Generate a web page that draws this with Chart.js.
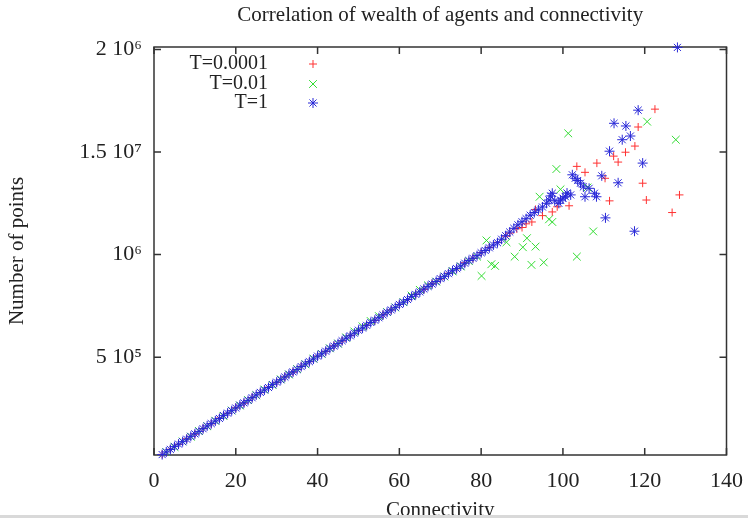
<!DOCTYPE html>
<html>
<head>
<meta charset="utf-8">
<script src="https://cdn.jsdelivr.net/npm/chart.js@4.4.0/dist/chart.umd.min.js"></script>
<style>
  body { margin: 0; background: #fff; }
  #wrap { position: relative; width: 748px; height: 518px; overflow: hidden; }
  #strip { position: absolute; left: 0; top: 515px; width: 748px; height: 3px; background: #d9d9d9; }
</style>
</head>
<body>
<div id="wrap">
  <canvas id="chart" width="748" height="518"></canvas>
  <div id="strip"></div>
</div>
<script>
// values in thousands of points
const seriesLabels = ['T=0.0001', 'T=0.01', 'T=1'];

const redX = [2, 4, 6, 8, 10, 12, 14, 16, 18, 20, 22, 24, 26, 28, 30, 32, 34, 36, 38, 40, 42, 44, 46, 48, 50,
  52, 54, 56, 58, 60, 62, 64, 66, 68, 70, 72, 74, 76, 78, 80, 82, 84, 86,
  87, 88.7, 90, 91, 92.4, 93.3, 95, 97.4, 98.6, 101.5, 103.4, 105.4, 108.3, 110.3, 111.4, 112.4, 113.5,
  115.3, 117.6, 118.4, 119.5, 120.4, 122.5, 126.7, 128.5];
const redY = [26, 51, 75, 102, 125, 152, 175, 203, 226, 253, 276, 303, 327, 354, 377, 404, 427, 455, 478, 505,
  528, 555, 579, 606, 629, 656, 679, 707, 730, 757, 780, 807, 831, 858, 881, 909, 931, 960, 982, 1010, 1035, 1060, 1090,
  1105, 1126, 1132, 1150, 1159, 1220, 1190, 1208, 1233, 1238, 1430, 1401, 1446, 1372, 1262, 1480, 1451,
  1499, 1529, 1622, 1348, 1266, 1709, 1205, 1291];

const greenX = [3, 5, 7, 9, 11, 13, 15, 17, 19, 21, 23, 25, 27, 29, 31, 33, 35, 37, 39, 41, 43, 45, 47, 49, 51,
  53, 55, 57, 59, 61, 63, 65, 67, 69, 71, 73, 75, 77, 79,
  80.1, 81.3, 82.5, 83.4, 86.2, 88.2, 90.2, 91.2, 92.3, 93.3, 94.3, 95.3, 96.6, 97.4, 98.4, 99.4, 101.3,
  103.4, 106, 107.4, 120.6, 127.6];
const greenY = [37, 62, 89, 112, 140, 163, 190, 213, 240, 264, 291, 314, 342, 364, 392, 415, 442, 465, 493, 516,
  543, 566, 596, 625, 650, 676, 700, 720, 742, 768, 800, 828, 850, 868, 893, 918, 942, 968, 990,
  896, 1069, 953, 945, 1060, 990, 1036, 1080, 950, 1039, 1282, 962, 1172, 1159, 1417, 1318, 1591,
  990, 1327, 1113, 1648, 1560];

const blueX = [2, 3, 4, 5, 6, 7, 8, 9, 10, 11, 12, 13, 14, 15, 16, 17, 18, 19, 20, 21, 22, 23, 24, 25, 26, 27, 28, 29,
  30, 31, 32, 33, 34, 35, 36, 37, 38, 39, 40, 41, 42, 43, 44, 45, 46, 47, 48, 49, 50, 51, 52, 53, 54, 55, 56, 57,
  58, 59, 60, 61, 62, 63, 64, 65, 66, 67, 68, 69, 70, 71, 72, 73, 74, 75, 76, 77, 78, 79, 80, 81, 82, 83, 84, 85,
  86, 87, 88, 89, 90, 91, 92, 93, 94, 95, 96, 96.6, 97, 97.4, 98, 99, 99.4, 100, 100.6, 101, 101.9,
  102.3, 103, 103.6, 104.3, 105, 105.4, 106.4, 107.7, 108.2, 109.5, 110.4, 111.4, 112.5, 113.5, 114.5,
  115.4, 116.5, 117.5, 118.4, 119.5, 128];
const blueY = [25, 38, 50, 64, 76, 88, 100, 114, 126, 138, 151, 165, 176, 189, 201, 215, 227, 239, 252, 266, 277, 289,
  302, 316, 328, 340, 352, 366, 378, 390, 403, 417, 428, 440, 454, 467, 478, 491, 505, 516, 529, 543, 554, 566,
  580, 593, 604, 617, 631, 642, 655, 669, 680, 692, 706, 719, 730, 743, 757, 768, 781, 795, 806, 818, 832, 845,
  856, 869, 883, 894, 907, 921, 932, 944, 958, 971, 982, 995, 1009, 1020, 1033, 1047, 1058, 1075,
  1092, 1110, 1128, 1145, 1160, 1175, 1192, 1205, 1218, 1232, 1250, 1266, 1286, 1299, 1262, 1250, 1266, 1275, 1282, 1300, 1291,
  1389, 1372, 1361, 1348, 1330, 1282, 1323, 1299, 1282, 1384, 1179, 1504, 1640, 1350, 1560,
  1627, 1578, 1114, 1704, 1446, 2010];

const xTickValues = [0, 20, 40, 60, 80, 100, 120, 140];
const yTickValues = [500, 1000, 1500, 2000];
const yTickLabels = ['5 10\u2075', '10\u2076', '1.5 10\u2077', '2 10\u2076'];

const serif = "'Liberation Serif', 'Times New Roman', serif";
const textColor = '#222';

const toPoints = (xs, ys) => xs.map((x, i) => ({ x: x, y: ys[i] }));

// gnuplot style border with inward ticks on all four sides
const frame = {
  id: 'frame',
  beforeDatasetsDraw(chart) {
    const { ctx, chartArea: a, scales } = chart;
    ctx.save();
    ctx.strokeStyle = '#333';
    ctx.lineWidth = 1.5;
    ctx.strokeRect(a.left, a.top, a.right - a.left, a.bottom - a.top);
    ctx.beginPath();
    scales.x.ticks.forEach(t => {
      const px = scales.x.getPixelForValue(t.value);
      ctx.moveTo(px, a.bottom); ctx.lineTo(px, a.bottom - 7);
      ctx.moveTo(px, a.top); ctx.lineTo(px, a.top + 7);
    });
    scales.y.ticks.forEach(t => {
      const py = scales.y.getPixelForValue(t.value);
      ctx.moveTo(a.left, py); ctx.lineTo(a.left + 7, py);
      ctx.moveTo(a.right, py); ctx.lineTo(a.right - 7, py);
    });
    ctx.stroke();
    ctx.restore();
  }
};

// key inside the plot, text right aligned before the marker
const key = {
  id: 'key',
  afterDraw(chart) {
    const { ctx } = chart;
    const rows = [64, 84, 103];
    ctx.save();
    ctx.font = '20px ' + serif;
    ctx.textAlign = 'right';
    ctx.textBaseline = 'middle';
    chart.data.datasets.forEach((ds, i) => {
      ctx.fillStyle = textColor;
      ctx.fillText(ds.label, 268, rows[i]);
      ctx.strokeStyle = ds.borderColor;
      ctx.fillStyle = ds.borderColor;
      ctx.lineWidth = ds.borderWidth;
      Chart.helpers.drawPoint(ctx, { pointStyle: ds.pointStyle, radius: ds.pointRadius, rotation: 0, borderWidth: ds.borderWidth }, 313, rows[i]);
    });
    ctx.restore();
  }
};

new Chart(document.getElementById('chart'), {
  type: 'scatter',
  data: {
    datasets: [
      { label: seriesLabels[0], data: toPoints(redX, redY), pointStyle: 'cross', pointRadius: 4,
        borderColor: 'rgb(255,50,50)', backgroundColor: 'rgb(255,50,50)', borderWidth: 1, order: 2, clip: false },
      { label: seriesLabels[1], data: toPoints(greenX, greenY), pointStyle: 'crossRot', pointRadius: 5.5,
        borderColor: 'rgb(50,220,50)', backgroundColor: 'rgb(50,220,50)', borderWidth: 1, order: 1, clip: false },
      { label: seriesLabels[2], data: toPoints(blueX, blueY), pointStyle: 'star', pointRadius: 5,
        borderColor: 'rgb(40,40,215)', backgroundColor: 'rgb(40,40,215)', borderWidth: 1, order: 0, clip: false }
    ]
  },
  options: {
    responsive: false,
    animation: false,
    layout: { padding: { left: 0, right: 21, top: 0, bottom: 0 } },
    plugins: {
      legend: { display: false },
      title: { display: false },
      tooltip: { enabled: false }
    },
    scales: {
      x: {
        type: 'linear',
        position: 'bottom',
        min: 0,
        max: 140,
        afterBuildTicks: s => { s.ticks = xTickValues.map(v => ({ value: v })); },
        ticks: { font: { family: serif, size: 22 }, color: textColor, padding: 5, autoSkip: false, maxRotation: 0 },
        grid: { display: false },
        border: { display: false },
        title: { display: true, text: 'Connectivity', color: textColor,
          font: { family: serif, size: 21, lineHeight: 1 }, padding: { top: 0, bottom: -3 } },
        afterFit: s => { s.height = 63; }
      },
      top: {
        type: 'linear',
        position: 'top',
        min: 0,
        max: 140,
        ticks: { display: false },
        grid: { display: false },
        border: { display: false },
        title: { display: true, text: 'Correlation of wealth of agents and connectivity', color: textColor,
          font: { family: serif, size: 21, lineHeight: 1 }, padding: { top: 5, bottom: 0 } },
        afterFit: s => { s.height = 47; }
      },
      y: {
        type: 'linear',
        min: 23,
        max: 2012,
        afterBuildTicks: s => { s.ticks = yTickValues.map(v => ({ value: v })); },
        ticks: { font: { family: serif, size: 22 }, color: textColor, padding: 4,
          callback: v => yTickLabels[yTickValues.indexOf(v)] },
        grid: { display: false },
        border: { display: false },
        title: { display: true, text: 'Number of points', color: textColor,
          font: { family: serif, size: 21, lineHeight: 1.2 }, padding: { top: 5, bottom: 0 } },
        afterFit: s => { s.width = 154; }
      }
    }
  },
  plugins: [frame, key]
});
</script>
</body>
</html>
